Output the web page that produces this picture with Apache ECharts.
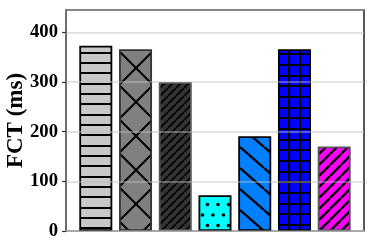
<!DOCTYPE html>
<html>
<head>
<meta charset="utf-8">
<script src="https://cdn.jsdelivr.net/npm/echarts@6/dist/echarts.min.js"></script>
<style>
html,body{margin:0;padding:0;background:#fff;}
#chart{width:374px;height:248px;}
</style>
</head>
<body>
<div id="chart"></div>
<script>
// ---- data ----
const categories = ['Scheme 1', 'Scheme 2', 'Scheme 3', 'Scheme 4', 'Scheme 5', 'Scheme 6', 'Scheme 7'];
const fctValues = [373, 366, 300, 72, 191, 366, 170];
const yTicks = [0, 100, 200, 300, 400];
const yAxisName = 'FCT (ms)';

// ---- pattern helpers ----
function makePattern(w, h, bg, draw) {
  const c = document.createElement('canvas');
  c.width = w; c.height = h;
  const ctx = c.getContext('2d');
  ctx.fillStyle = bg; ctx.fillRect(0, 0, w, h);
  ctx.strokeStyle = '#000'; ctx.fillStyle = '#000';
  draw(ctx, w, h);
  return { image: c, repeat: 'repeat' };
}
function hLines(lw, ys) {
  return (ctx, w, h) => { ys.forEach(y => ctx.fillRect(0, y, w, lw)); };
}
function slash(lw) {
  return (ctx, w, h) => {
    ctx.lineWidth = lw; ctx.beginPath();
    for (let k = -1; k <= 1; k++) { ctx.moveTo(k * w, h); ctx.lineTo(k * w + w, 0); }
    ctx.stroke();
  };
}
function backslash(lw) {
  return (ctx, w, h) => {
    ctx.lineWidth = lw; ctx.beginPath();
    for (let k = -1; k <= 1; k++) { ctx.moveTo(k * w, 0); ctx.lineTo(k * w + w, h); }
    ctx.stroke();
  };
}
function cross(lw) {
  return (ctx, w, h) => {
    ctx.lineWidth = lw; ctx.beginPath();
    for (let k = -1; k <= 1; k++) {
      ctx.moveTo(k * w, 0); ctx.lineTo(k * w + w, h);
      ctx.moveTo(k * w, h); ctx.lineTo(k * w + w, 0);
    }
    ctx.stroke();
  };
}
function dots(r, pts) {
  return (ctx, w, h) => {
    pts.forEach(p => {
      for (let dx = -w; dx <= w; dx += w) for (let dy = -h; dy <= h; dy += h) {
        ctx.beginPath(); ctx.arc(p[0] + dx, p[1] + dy, r, 0, Math.PI * 2); ctx.fill();
      }
    });
  };
}
function grid(lw, xs, ys) {
  return (ctx, w, h) => {
    xs.forEach(x => ctx.fillRect(x, 0, lw, h));
    ys.forEach(y => ctx.fillRect(0, y, w, lw));
  };
}

const barStyles = [
  { color: makePattern(34, 31, '#c8c8c8', hLines(2, [0, 10, 21])), borderColor: '#000' },
  { color: makePattern(34, 34, '#808080', cross(2)), borderColor: '#333' },
  { color: makePattern(8, 8, '#333333', slash(1.6)), borderColor: '#555' },
  { color: makePattern(21, 21, '#00ffff', dots(1.8, [[3, 5], [13.5, 5], [8, 15.5], [18.5, 15.5]])), borderColor: '#000' },
  { color: makePattern(24, 21, '#0080ff', backslash(2.4)), borderColor: '#000' },
  { color: makePattern(32, 32, '#0000ff', grid(2, [0, 11, 21], [0, 11, 21])), borderColor: '#000' },
  { color: makePattern(11, 11, '#ff00ff', slash(2.4)), borderColor: '#555' }
];

const chart = echarts.init(document.getElementById('chart'), null, { renderer: 'canvas' });
const serif = '"Liberation Serif", "Times New Roman", serif';
chart.setOption({
  animation: false,
  backgroundColor: '#fff',
  grid: { left: 66, right: 10, top: 10, bottom: 17, show: true, borderColor: '#222', borderWidth: 1.5, backgroundColor: '#fff',
    containLabel: false, outerBoundsMode: 'none' },
  xAxis: {
    type: 'value', min: -0.75, max: categories.length - 0.25,
    axisLine: { show: true, onZero: false, lineStyle: { color: '#999', width: 2 } },
    axisTick: { show: false }, axisLabel: { show: false }, splitLine: { show: false }
  },
  yAxis: {
    type: 'value', min: yTicks[0], max: 445, interval: 100, z: 5,
    name: yAxisName, nameLocation: 'middle', nameGap: 38, nameMoveOverlap: false,
    nameTextStyle: { fontFamily: serif, fontWeight: 'bold', fontSize: 23, color: '#000' },
    axisLine: { show: true, onZero: false, lineStyle: { color: '#777', width: 1.5 } },
    axisTick: { show: true, length: 4, lineStyle: { color: '#333', width: 1.2 } },
    axisLabel: { fontFamily: serif, fontWeight: 'bold', fontSize: 18.7, color: '#000', margin: 8, showMaxLabel: false,
      formatter: v => (yTicks.indexOf(v) >= 0 ? String(v) : '') },
    splitLine: { show: true, lineStyle: { color: 'rgba(190,190,190,0.6)', width: 1.5 } }
  },
  series: [{
    type: 'bar', barWidth: 33,
    data: fctValues.map((v, i) => ({
      name: categories[i], value: [i, v],
      itemStyle: { color: barStyles[i].color, borderColor: barStyles[i].borderColor, borderWidth: 1.8 }
    }))
  }]
});
</script>
</body>
</html>
